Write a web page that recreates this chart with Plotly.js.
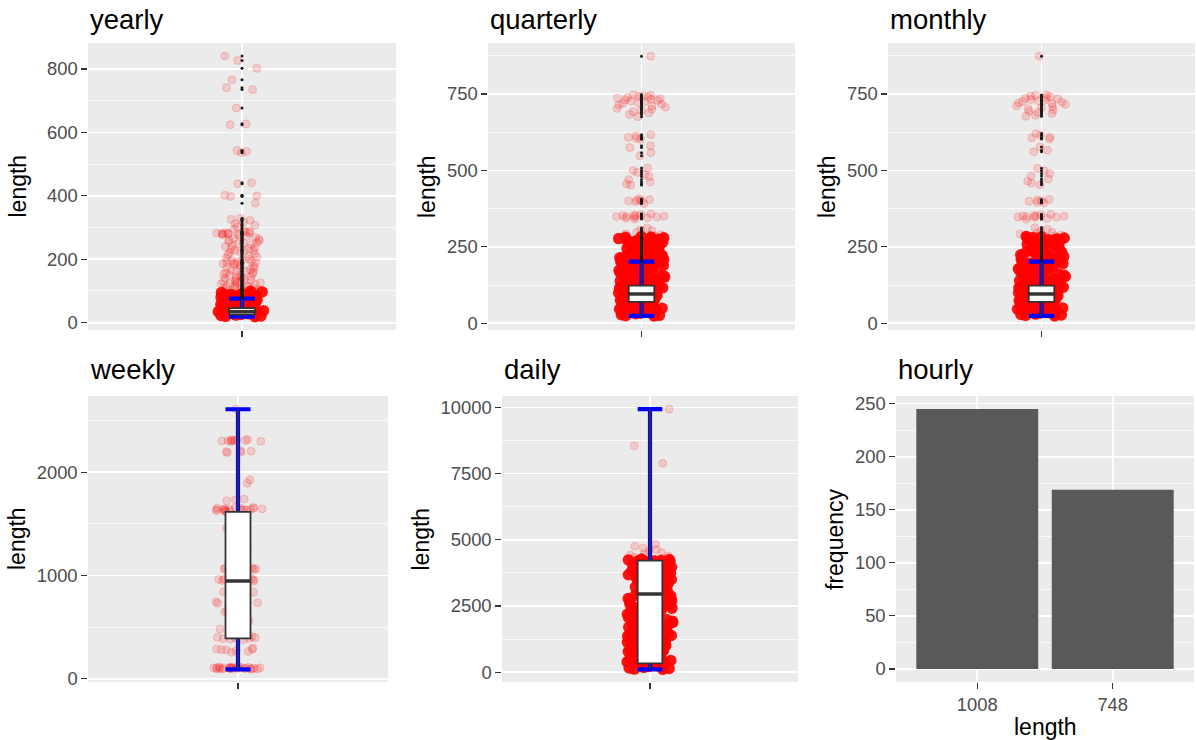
<!DOCTYPE html>
<html><head><meta charset="utf-8">
<script src="https://cdn.plot.ly/plotly-3.0.1.min.js"></script>
<style>html,body{margin:0;padding:0;background:#fff;}#chart{width:1196px;height:740px;}</style>
</head><body><div id="chart"></div>
<script>
// ---------------- data ----------------
const panelTitles = ['yearly', 'quarterly', 'monthly', 'weekly', 'daily', 'hourly'];
const yTitles = ['length', 'length', 'length', 'length', 'length', 'frequency'];

// boxplot statistics (series length)
const boxLower  = [19, 24, 24, 93, 107];
const boxQ1     = [26, 70, 70, 392, 337];
const boxMedian = [35, 96, 96, 947, 2954];
const boxQ3     = [46, 123, 123, 1616, 4211];
const boxUpper  = [76, 202, 202, 2610, 9933];

// jittered series lengths
const yearlyCore = [19,20,21,23,24,25,26,28,29,30,32,33,34,35,37,38,40,41,42,44,45,47,48,49,51,52,54,56,57,58,60,62,63,64,66,68,69,71,72,74,76,77,79,80,82,84,85,87,89,90,92,94,95,97,99];
const yearlyUpper = [101,102,104,106,107,109,111,112,114,115,117,119,121,123,124,126,128,130,131,133,135,136,138,141,143,145,146,149,150,153,155,157,160,162,163,166,168,171,172,175,178,181,184,186,188,189,190,191,193,195,197,200,204,207,210,214,218,221,224,226,228,229,231,234,237,240,243,246,249,251,253,256,258,260,263,266,269,272,275,277,279,280,280,281,282,282,283,284,286,288,291,296,302,307,312,318,323,326,329];
const yearlyFar = [377,398,400,402,438,441,536,540,543,624,627,677,735,741,766,802,827,841];

const quarterlyCore = [24,25,26,28,31,32,33,36,37,39,41,42,45,46,47,49,52,53,55,56,58,61,62,63,66,68,69,70,73,75,76,79,80,81,84,86,87,89,91,93,94,96,97,99,102,103,104,107,108,110,112,114,115,116,119,121,122,125,126,127,130,132,133,135,137,138,141,143,144,146,148,149,151,154,155,156,159,160,162,164,166,167,170,171,173,174,177,179,180,182,183,186,188,189,191,193,194,197,198,200,202,204,205,207,209,210,213,214,216,217,220,222,223,225,228,229,231,232,235,236,238,240,241,244,245,247,249,251,252,254,256,258,259,262,263,265,267,268,271,272,274,275,277,278,280,281,282,284];
const quarterlyUpper = [286,288,290,293,298,303,306,312,341,344,345,347,348,349,349,350,351,352,354,356,358,392,398,400,401,403,404,407,452,456,462,470,480,487,493,500,508,548,558,575,581,602,605,608,613,617,676,683,688,692,697,700,703,707,711,714,717,720,722,725,727,729,731,733,735,737,739,740,742,744,746,748,874];

const monthlyCore = [24,26,27,29,30,32,34,35,38,40,41,43,44,46,48,50,51,54,55,57,59,60,62,64,65,67,70,71,72,74,77,78,80,82,83,85,88,89,90,92,95,96,98,100,101,104,105,106,109,111,112,113,116,118,120,122,124,125,128,129,131,134,135,136,139,140,142,145,147,148,150,152,153,156,157,159,161,163,165,168,169,172,174,175,178,180,181,184,185,187,190,191,192,195,196,199,201,203,206,208,209,211,212,215,218,219,221,224,226,227,230,233,234,237,239,240,242,243,246,248,250,253,255,257,258,260,261,264,266,269,270,273,274,276,277,279,281,283,284];
const monthlyUpper = [286,287,289,292,295,297,301,308,313,340,343,346,347,348,349,350,350,351,353,355,357,394,396,399,401,403,405,453,458,465,472,482,490,499,507,561,566,577,603,606,609,615,621,677,681,686,690,694,698,702,705,709,712,716,719,721,724,726,728,730,732,734,736,738,741,743,745,747,874];

const weeklyPoints = [93,94,96,97,98,99,100,100,101,102,103,104,104,105,106,107,108,109,110,111,112,113,115,117,119,257,266,273,280,283,286,290,297,378,385,390,393,396,400,404,410,418,441,483,526,561,641,649,654,661,725,729,733,737,741,746,838,843,848,852,857,948,952,956,959,962,966,970,1033,1041,1060,1063,1066,1069,1072,1208,1233,1236,1314,1459,1531,1618,1622,1626,1629,1632,1634,1636,1637,1639,1640,1641,1643,1645,1647,1649,1651,1654,1657,1660,1725,1733,1741,1894,1926,2190,2195,2199,2203,2207,2296,2299,2302,2304,2306,2308,2310,2312,2315,2318,2610];

const dailyCore = [107,118,139,162,178,204,227,249,270,301,319,340,371,392,413,445,462,489,512,537,561,583,611,632,660,684,709,729,758,781,806,830,857,878,906,931,954,983,1005,1032,1056,1083,1104,1131,1160,1182,1207,1236,1258,1285,1311,1334,1362,1385,1412,1441,1463,1489,1516,1540,1567,1592,1618,1645,1669,1697,1720,1748,1771,1799,1826,1849,1877,1902,1928,1953,1979,2006,2031,2058,2082,2109,2134,2161,2186,2212,2238,2263,2290,2314,2342,2366,2391,2418,2443,2470,2495,2521,2547,2572,2599,2624,2650,2676,2701,2728,2752,2779,2805,2830,2857,2881,2908,2933,2960,2985,3011,3037,3062,3089,3114,3140,3166,3191,3218,3242,3269,3295,3320,3346,3372,3397,3424,3449,3475,3501,3526,3553,3578,3604,3630,3655,3682,3707,3733,3759,3784,3811,3836,3862,3888,3913,3940,3965,3991,4017,4042,4069,4094,4120,4146,4171,4190,4204,4211,4218,4226,4240,4255,4272];
const dailyUpper = [4310,4345,4390,4430,4470,4520,4575,4630,4690,4760,4830];
const dailyFar = [7886,8551,9933];

// hourly: frequency of each series length
const hourlyLengths = ['1008', '748'];
const hourlyCounts = [245, 169];

// ---------------- chart ----------------
const jitterSets = [
  [yearlyCore, yearlyUpper, yearlyFar],
  [quarterlyCore, quarterlyUpper],
  [monthlyCore, monthlyUpper],
  [[], weeklyPoints],
  [dailyCore, dailyUpper, dailyFar]
];

const W = 1196, H = 740;
const panels = [ // left, right, top, bottom in px
  [88, 396, 43, 330], [488, 795, 43, 330], [888, 1195, 43, 330],
  [88, 388, 396, 682], [502, 798, 396, 682], [896, 1194, 396, 682]
];
const yRanges = [[-23, 882], [-22, 917], [-22, 917], [-30, 2738], [-370, 10430], [-12.25, 257.25]];
const yDticks = [200, 250, 250, 1000, 2500, 50];
const ytitleX = [17, 426.5, 826.5, 17, 420.5, 835];

const FONT = '"Liberation Sans", Arial, Helvetica, sans-serif';
const suf = ['', '2', '3', '4', '5', '6'];
const denseMarker = {size: 11.5, color: 'rgba(255,0,0,0.92)', line: {width: 0}};
const sparseMarker = {size: 8, color: 'rgba(255,0,0,0.14)', line: {color: 'rgba(255,0,0,0.16)', width: 1}};
const clear = 'rgba(0,0,0,0)';

const traces = [];
jitterSets.forEach((sets, i) => {
  const xa = 'x' + suf[i], ya = 'y' + suf[i];
  sets.forEach((vals, k) => {
    if (!vals.length) return;
    traces.push({type: 'box', xaxis: xa, yaxis: ya, y: vals, x0: 0, width: 0.2,
      boxpoints: 'all', jitter: 1, pointpos: 0, whiskerwidth: 0,
      line: {width: 0, color: clear}, fillcolor: clear,
      marker: k === 0 ? denseMarker : sparseMarker, hoverinfo: 'skip', showlegend: false});
  });
  // blue error bar (ymin..ymax with caps)
  traces.push({type: 'box', xaxis: xa, yaxis: ya, x: [0],
    q1: [boxMedian[i]], median: [boxMedian[i]], q3: [boxMedian[i]],
    lowerfence: [boxLower[i]], upperfence: [boxUpper[i]],
    width: 0.1, whiskerwidth: 1, boxpoints: false,
    line: {color: '#0000FF', width: 4.2}, fillcolor: clear, hoverinfo: 'skip', showlegend: false});
  // boxplot
  traces.push({type: 'box', xaxis: xa, yaxis: ya, x: [0],
    q1: [boxQ1[i]], median: [boxMedian[i]], q3: [boxQ3[i]],
    lowerfence: [boxLower[i]], upperfence: [boxUpper[i]],
    width: 0.1, whiskerwidth: 0, boxpoints: false,
    line: {color: '#333333', width: 1.8}, fillcolor: '#FFFFFF', hoverinfo: 'skip', showlegend: false});
  // thicker median line
  traces.push({type: 'box', xaxis: xa, yaxis: ya, x: [0],
    q1: [boxMedian[i]], median: [boxMedian[i]], q3: [boxMedian[i]],
    lowerfence: [boxMedian[i]], upperfence: [boxMedian[i]],
    width: 0.1, whiskerwidth: 0, boxpoints: false,
    line: {color: '#333333', width: 3.4}, fillcolor: clear, hoverinfo: 'skip', showlegend: false});
  // outliers
  const all = [].concat(...sets);
  const out = all.filter(v => v > boxUpper[i] || v < boxLower[i]);
  if (out.length) {
    traces.push({type: 'box', xaxis: xa, yaxis: ya, y: out, x0: 0, width: 0.02,
      boxpoints: 'all', jitter: 0, pointpos: 0, whiskerwidth: 0,
      line: {width: 0, color: clear}, fillcolor: clear,
      marker: {size: 3, color: '#1A1A1A'}, hoverinfo: 'skip', showlegend: false});
  }
});
traces.push({type: 'bar', xaxis: 'x6', yaxis: 'y6', x: hourlyLengths, y: hourlyCounts,
  width: 0.9, marker: {color: '#595959', line: {width: 0}}, hoverinfo: 'skip', showlegend: false});

const layout = {
  width: W, height: H, margin: {l: 0, r: 0, t: 0, b: 0},
  paper_bgcolor: '#FFFFFF', plot_bgcolor: '#EBEBEB', showlegend: false,
  font: {family: FONT, color: '#000000'},
  boxmode: 'overlay', bargap: 0.1,
  annotations: []
};
panels.forEach((p, i) => {
  const [l, r, t, b] = p;
  const xd = [l / W, r / W], yd = [1 - b / H, 1 - t / H];
  const common = {ticks: 'outside', ticklen: 5.7, tickwidth: 1.1, tickcolor: '#333333',
    tickfont: {size: 18.4, color: '#4D4D4D', family: FONT},
    showgrid: true, gridcolor: '#FFFFFF', gridwidth: 1.6, zeroline: false, showline: false, fixedrange: true};
  const xax = Object.assign({}, common, {domain: xd, anchor: 'y' + suf[i]});
  if (i < 5) {
    Object.assign(xax, {type: 'linear', range: [-0.6, 0.6], tickmode: 'array', tickvals: [0], ticktext: ['']});
  } else {
    Object.assign(xax, {type: 'category', range: [-0.6, 1.6]});
  }
  const yax = Object.assign({}, common, {domain: yd, anchor: 'x' + suf[i], range: yRanges[i],
    tick0: 0, dtick: yDticks[i], tickformat: 'd', separatethousands: false, exponentformat: 'none',
    minor: {tick0: 0, dtick: yDticks[i] / 2, showgrid: true, gridcolor: '#FFFFFF', gridwidth: 0.8}});
  layout['xaxis' + suf[i]] = xax;
  layout['yaxis' + suf[i]] = yax;
  // panel title
  layout.annotations.push({xref: 'paper', yref: 'paper', x: l / W, y: 1 - (i < 3 ? 20 : 369.5) / H,
    xanchor: 'left', yanchor: 'middle', showarrow: false, text: panelTitles[i],
    font: {size: 27.5, color: '#000000', family: FONT}});
  // y-axis title
  layout.annotations.push({xref: 'paper', yref: 'paper', x: ytitleX[i] / W, y: 1 - ((t + b) / 2) / H,
    xanchor: 'center', yanchor: 'middle', showarrow: false, textangle: -90, text: yTitles[i],
    font: {size: 23, color: '#000000', family: FONT}});
});
// x-axis title of the hourly panel
layout.annotations.push({xref: 'paper', yref: 'paper', x: 1045 / W, y: 1 - 727 / H,
  xanchor: 'center', yanchor: 'middle', showarrow: false, text: 'length',
  font: {size: 23, color: '#000000', family: FONT}});

Plotly.newPlot('chart', traces, layout, {staticPlot: true, displayModeBar: false});
</script></body></html>
